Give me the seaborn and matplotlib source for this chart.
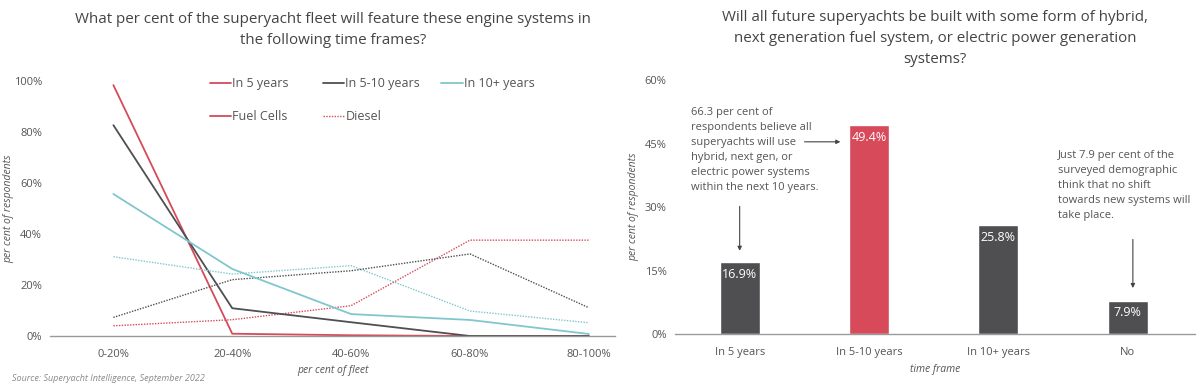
import numpy as np
import pandas as pd
import matplotlib
matplotlib.use("Agg")
import matplotlib.pyplot as plt
from matplotlib.lines import Line2D
from matplotlib.ticker import PercentFormatter
import seaborn as sns

sns.set_theme(style="white")
plt.rcParams["font.family"] = ["Open Sans", "DejaVu Sans"]

# dados do gráfico da esquerda (% de respondentes por fatia da frota)
fleet_bins = ["0-20%", "20-40%", "40-60%", "60-80%", "80-100%"]
fuel_5 = [98.4, 0.9, 0.3, 0.0, 0.0]
fuel_5_10 = [82.7, 10.9, 5.4, 0.0, 0.0]
fuel_10 = [55.7, 26.3, 8.6, 6.3, 0.8]
diesel_5 = [4.0, 6.4, 11.9, 37.6, 37.6]
diesel_5_10 = [7.3, 22.1, 25.6, 32.2, 11.1]
diesel_10 = [31.1, 24.3, 27.6, 9.8, 5.2]

# dados do gráfico da direita
frames = ["In 5 years", "In 5-10 years", "In 10+ years", "No"]
shares = [16.9, 49.4, 25.8, 7.9]

RED = "#d64a5a"
DARK = "#4f4f51"
TEAL = "#80c7cd"
TXT = "#555555"
AXIS = "#9a9a9a"

rows = []
for engine, series in [("Fuel Cells", [fuel_5, fuel_5_10, fuel_10]),
                       ("Diesel", [diesel_5, diesel_5_10, diesel_10])]:
    for tf, vals in zip(["In 5 years", "In 5-10 years", "In 10+ years"], series):
        for i, v in enumerate(vals):
            rows.append({"pos": i, "value": v, "timeframe": tf, "engine": engine})
df_lines = pd.DataFrame(rows)

fig = plt.figure(figsize=(12, 3.86), dpi=100)
ax1 = fig.add_axes([0.042, 0.1295, 0.4705, 0.6605])
ax2 = fig.add_axes([0.5625, 0.1347, 0.4333, 0.658])

palette = {"In 5 years": RED, "In 5-10 years": DARK, "In 10+ years": TEAL}
sns.lineplot(data=df_lines, x="pos", y="value", hue="timeframe", style="engine",
             palette=palette, dashes={"Fuel Cells": "", "Diesel": (1, 1)},
             linewidth=1.3, legend=False, ax=ax1)
for line in ax1.lines:
    if line.get_linestyle() != "-":
        line.set_linewidth(1.0)

ax1.set_xlim(-0.53, 4.22)
ax1.set_ylim(0, 100)
ax1.set_xticks(range(len(fleet_bins)))
ax1.set_xticklabels(fleet_bins)
ax1.set_yticks(np.arange(0, 101, 20))
ax1.yaxis.set_major_formatter(PercentFormatter(decimals=0))
ax1.set_xlabel("per cent of fleet", fontsize=7.5, style="italic", color=TXT, labelpad=4)
ax1.set_ylabel("per cent of respondents", fontsize=7.5, style="italic", color=TXT)
ax1.yaxis.set_label_coords(-0.064, 0.5)
ax1.set_title("What per cent of the superyacht fleet will feature these engine systems in\n"
              "the following time frames?", fontsize=10.9, color="#444444",
              pad=27, linespacing=1.5)

handles = [Line2D([], [], color=RED, lw=1.3, label="In 5 years    "),
           Line2D([], [], color=RED, lw=1.3, label="Fuel Cells"),
           Line2D([], [], color=DARK, lw=1.3, label="In 5-10 years"),
           Line2D([], [], color=RED, lw=1.0, ls=(0, (1, 1)), label="Diesel"),
           Line2D([], [], color=TEAL, lw=1.3, label="In 10+ years")]
leg = ax1.legend(handles=handles, ncol=3, loc="upper left", bbox_to_anchor=(0.262, 1.06),
                 frameon=False, fontsize=9, handlelength=1.7, handletextpad=0.1,
                 columnspacing=1.7, labelspacing=1.6)
for t in leg.get_texts():
    t.set_color(TXT)

# gráfico da direita
df_bars = pd.DataFrame({"frame": frames, "share": shares})
bar_colors = {"In 5 years": DARK, "In 5-10 years": RED, "In 10+ years": DARK, "No": DARK}
sns.barplot(data=df_bars, x="frame", y="share", hue="frame", palette=bar_colors,
            width=0.31, legend=False, ax=ax2, saturation=1)
ax2.set_xlim(-0.5, 3.52)
ax2.set_ylim(0, 60)
ax2.set_yticks(np.arange(0, 61, 15))
ax2.yaxis.set_major_formatter(PercentFormatter(decimals=0))
ax2.set_xlabel("time frame", fontsize=7.5, style="italic", color=TXT, labelpad=5)
ax2.set_ylabel("per cent of respondents", fontsize=7.5, style="italic", color=TXT)
ax2.set_title("Will all future superyachts be built with some form of hybrid,\n"
              "next generation fuel system, or electric power generation\n"
              "systems?", fontsize=10.9, color="#444444", pad=12, linespacing=1.55)
for i, v in enumerate(shares):
    ax2.text(i, v - 1.4, f"{v}%", ha="center", va="top", color="white", fontsize=9)

ax2.text(-0.38, 53.6, "66.3 per cent of\nrespondents believe all\nsuperyachts will use\n"
         "hybrid, next gen, or\nelectric power systems\nwithin the next 10 years.",
         ha="left", va="top", fontsize=8, color=TXT, linespacing=1.5)
ax2.annotate("", xy=(0.8, 45.4), xytext=(0.48, 45.4),
             arrowprops=dict(arrowstyle="-|>", color="#444444", lw=0.8, mutation_scale=6))
ax2.annotate("", xy=(0, 19.0), xytext=(0, 30.8),
             arrowprops=dict(arrowstyle="-|>", color="#444444", lw=0.8, mutation_scale=6))
ax2.text(2.46, 43.4, "Just 7.9 per cent of the\nsurveyed demographic\nthink that no shift\n"
         "towards new systems will\ntake place.",
         ha="left", va="top", fontsize=8, color=TXT, linespacing=1.5)
ax2.annotate("", xy=(3.04, 10.2), xytext=(3.04, 23.0),
             arrowprops=dict(arrowstyle="-|>", color="#444444", lw=0.8, mutation_scale=6))

for ax in (ax1, ax2):
    sns.despine(ax=ax, left=True)
    ax.spines["bottom"].set_color(AXIS)
    ax.spines["bottom"].set_linewidth(1.0)
    ax.tick_params(axis="y", labelsize=8, colors=TXT, length=0, pad=6)
    ax.tick_params(axis="x", labelsize=8, colors=TXT, length=0, pad=9)
    ax.grid(False)

fig.text(0.01, 0.012, "Source: Superyacht Intelligence, September 2022", fontsize=6.5,
         style="italic", color="#8a8a8a")

fig.savefig("out.png", dpi=100)
